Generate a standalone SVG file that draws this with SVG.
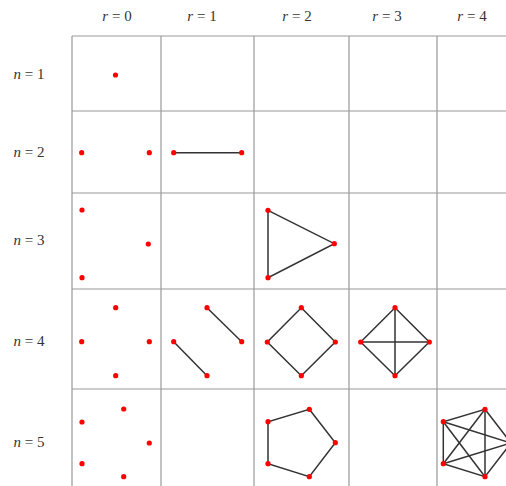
<svg xmlns="http://www.w3.org/2000/svg" width="506" height="486" viewBox="0 0 506 486">
<style>
.grid line{stroke:#999;stroke-width:1.2}
.lbl{font-family:"Liberation Serif","Times New Roman",serif;font-size:15px;fill:#333;text-anchor:middle}
.lbl tspan.i{font-style:italic}
.e line,.e polygon{stroke:#333;stroke-width:1.5;fill:none}
.v{fill:#f00}
</style>
<defs><circle id="d" r="2.6" fill="#f00"/></defs>
<rect width="506" height="486" fill="#fff"/>
<g class="grid">
<line x1="72" y1="36" x2="506" y2="36"/>
<line x1="72" y1="111" x2="506" y2="111"/>
<line x1="72" y1="193" x2="506" y2="193"/>
<line x1="72" y1="289" x2="506" y2="289"/>
<line x1="72" y1="389" x2="506" y2="389"/>
<line x1="72" y1="36" x2="72" y2="486"/>
<line x1="161" y1="36" x2="161" y2="486"/>
<line x1="254" y1="36" x2="254" y2="486"/>
<line x1="349" y1="36" x2="349" y2="486"/>
<line x1="437" y1="36" x2="437" y2="486"/>
</g>
<g id="labels">
<text class="lbl" x="117" y="21"><tspan class="i">r</tspan> = 0</text>
<text class="lbl" x="202" y="21"><tspan class="i">r</tspan> = 1</text>
<text class="lbl" x="297" y="21"><tspan class="i">r</tspan> = 2</text>
<text class="lbl" x="387" y="21"><tspan class="i">r</tspan> = 3</text>
<text class="lbl" x="472" y="21"><tspan class="i">r</tspan> = 4</text>
<text class="lbl" x="29" y="79"><tspan class="i">n</tspan> = 1</text>
<text class="lbl" x="29" y="157"><tspan class="i">n</tspan> = 2</text>
<text class="lbl" x="29" y="245"><tspan class="i">n</tspan> = 3</text>
<text class="lbl" x="29" y="346"><tspan class="i">n</tspan> = 4</text>
<text class="lbl" x="29" y="447"><tspan class="i">n</tspan> = 5</text>
</g>
<g id="connectors" class="e">
<line x1="173.7" y1="152.7" x2="241.7" y2="152.7"/>
<polygon points="268,210.3 334.3,243.7 268,277.7"/>
<line x1="207" y1="307.7" x2="241.7" y2="341.7"/>
<line x1="173.7" y1="341.7" x2="207" y2="375.7"/>
<polygon points="301.3,307.7 335.3,342 301.3,375.7 267.3,342"/>
<polygon points="395,307.7 429.3,342 395,375.7 360.7,342"/>
<line x1="395" y1="307.7" x2="395" y2="375.7"/>
<line x1="360.7" y1="342" x2="429.3" y2="342"/>
<polygon points="309.3,409.3 335.3,442.7 309.3,476.7 268,463.7 268,421.7"/>
<polygon points="485,409.3 511,443 485,476.7 443.3,463.7 443.3,421.7"/>
<line x1="485" y1="409.3" x2="485" y2="476.7"/>
<line x1="485" y1="409.3" x2="443.3" y2="463.7"/>
<line x1="443.3" y1="421.7" x2="511" y2="443"/>
<line x1="443.3" y1="421.7" x2="485" y2="476.7"/>
<line x1="443.3" y1="463.7" x2="511" y2="443"/>
</g>
<g id="n1r0" class="v"><use href="#d" x="115.5" y="75"/></g>
<g id="n2r0" class="v"><use href="#d" x="81.7" y="152.7"/><use href="#d" x="149.3" y="152.7"/></g>
<g id="n2r1" class="v"><use href="#d" x="173.7" y="152.7"/><use href="#d" x="241.7" y="152.7"/></g>
<g id="n3r0" class="v"><use href="#d" x="82" y="210"/><use href="#d" x="148.3" y="244"/><use href="#d" x="82" y="277.7"/></g>
<g id="n3r2" class="v"><use href="#d" x="268" y="210.3"/><use href="#d" x="334.3" y="243.7"/><use href="#d" x="268" y="277.7"/></g>
<g id="n4r0" class="v"><use href="#d" x="115.7" y="307.7"/><use href="#d" x="81.7" y="341.7"/><use href="#d" x="149.3" y="341.7"/><use href="#d" x="115.7" y="375.7"/></g>
<g id="n4r1" class="v"><use href="#d" x="207" y="307.7"/><use href="#d" x="241.7" y="341.7"/><use href="#d" x="173.7" y="341.7"/><use href="#d" x="207" y="375.7"/></g>
<g id="n4r2" class="v"><use href="#d" x="301.3" y="307.7"/><use href="#d" x="335.3" y="342"/><use href="#d" x="301.3" y="375.7"/><use href="#d" x="267.3" y="342"/></g>
<g id="n4r3" class="v"><use href="#d" x="395" y="307.7"/><use href="#d" x="429.3" y="342"/><use href="#d" x="395" y="375.7"/><use href="#d" x="360.7" y="342"/></g>
<g id="n5r0" class="v"><use href="#d" x="123.7" y="409"/><use href="#d" x="82" y="422"/><use href="#d" x="149.3" y="443"/><use href="#d" x="82" y="463.7"/><use href="#d" x="123.7" y="476.7"/></g>
<g id="n5r2" class="v"><use href="#d" x="309.3" y="409.3"/><use href="#d" x="335.3" y="442.7"/><use href="#d" x="309.3" y="476.7"/><use href="#d" x="268" y="463.7"/><use href="#d" x="268" y="421.7"/></g>
<g id="n5r4" class="v"><use href="#d" x="485" y="409.3"/><use href="#d" x="511" y="443"/><use href="#d" x="485" y="476.7"/><use href="#d" x="443.3" y="463.7"/><use href="#d" x="443.3" y="421.7"/></g>
</svg>
